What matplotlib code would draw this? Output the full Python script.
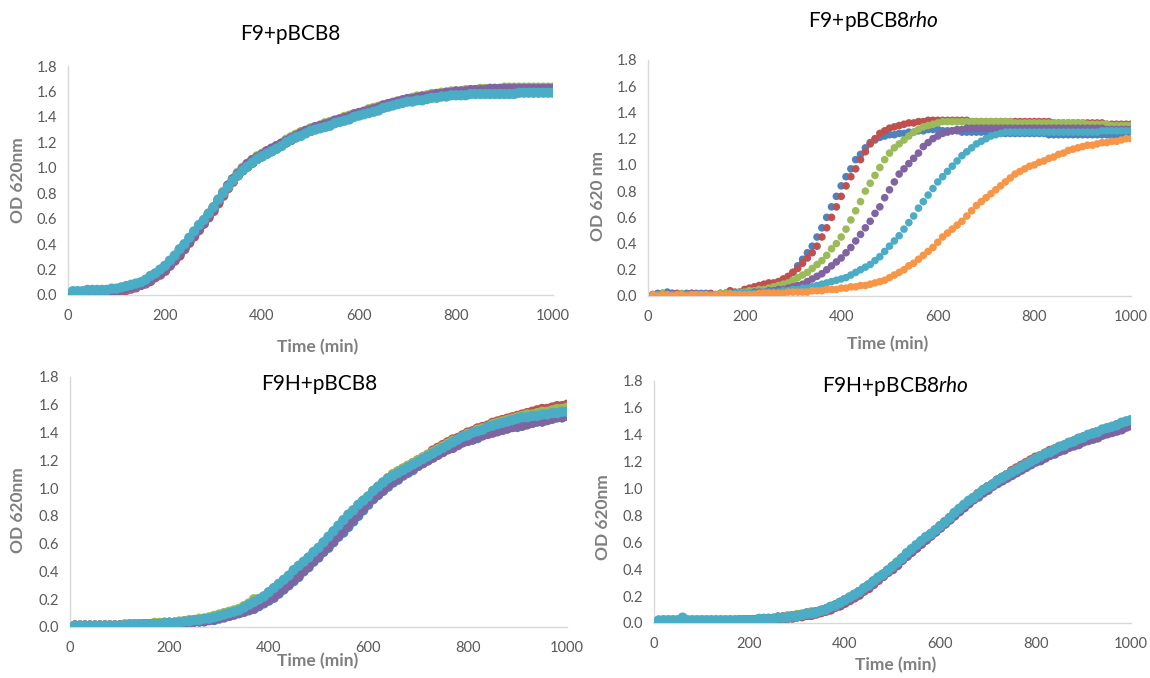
"""Growth curves (OD 620 nm vs time) for four strains, Excel-style dot plots."""

import numpy as np
import matplotlib
matplotlib.use("Agg")
import matplotlib.pyplot as plt

plt.rcParams["font.family"] = ["Lato", "DejaVu Sans"]
plt.rcParams["mathtext.fontset"] = "custom"
plt.rcParams["mathtext.rm"] = "Lato"
plt.rcParams["mathtext.it"] = "Lato:italic"

# sampling times (min), one reading every 10 min
time_min = np.arange(10, 1001, 10)

# ---- F9+pBCB8 ----
p1_blue = [0.01, 0.01, 0.01, 0.01, 0.02, 0.02, 0.02, 0.02, 0.03, 0.03,
           0.04, 0.05, 0.06, 0.07, 0.08, 0.10, 0.12, 0.15, 0.17, 0.20,
           0.24, 0.28, 0.32, 0.37, 0.42, 0.47, 0.52, 0.57, 0.62, 0.67,
           0.73, 0.79, 0.85, 0.90, 0.94, 0.98, 1.01, 1.04, 1.07, 1.09,
           1.11, 1.13, 1.15, 1.18, 1.20, 1.22, 1.24, 1.26, 1.28, 1.29,
           1.31, 1.32, 1.33, 1.34, 1.36, 1.37, 1.38, 1.39, 1.41, 1.42,
           1.43, 1.44, 1.45, 1.46, 1.48, 1.49, 1.50, 1.51, 1.52, 1.53,
           1.53, 1.54, 1.55, 1.55, 1.56, 1.57, 1.57, 1.58, 1.58, 1.58,
           1.59, 1.59, 1.59, 1.59, 1.60, 1.60, 1.60, 1.60, 1.60, 1.60,
           1.60, 1.60, 1.61, 1.61, 1.61, 1.61, 1.61, 1.61, 1.61, 1.61]
p1_red = [0.01, 0.01, 0.01, 0.01, 0.01, 0.01, 0.02, 0.02, 0.02, 0.03,
          0.03, 0.04, 0.05, 0.06, 0.08, 0.09, 0.11, 0.14, 0.16, 0.19,
          0.23, 0.27, 0.31, 0.36, 0.41, 0.46, 0.51, 0.56, 0.61, 0.66,
          0.72, 0.78, 0.84, 0.89, 0.94, 0.98, 1.01, 1.04, 1.07, 1.09,
          1.12, 1.14, 1.16, 1.18, 1.20, 1.22, 1.24, 1.26, 1.28, 1.29,
          1.31, 1.32, 1.33, 1.35, 1.36, 1.37, 1.38, 1.40, 1.41, 1.42,
          1.43, 1.44, 1.46, 1.47, 1.48, 1.49, 1.50, 1.51, 1.52, 1.53,
          1.54, 1.54, 1.55, 1.56, 1.56, 1.57, 1.57, 1.58, 1.58, 1.59,
          1.59, 1.59, 1.60, 1.60, 1.60, 1.60, 1.61, 1.61, 1.61, 1.61,
          1.61, 1.61, 1.61, 1.62, 1.62, 1.62, 1.62, 1.62, 1.62, 1.62]
p1_green = [0.01, 0.01, 0.01, 0.02, 0.02, 0.02, 0.02, 0.03, 0.03, 0.03,
            0.04, 0.05, 0.06, 0.07, 0.09, 0.10, 0.12, 0.15, 0.18, 0.21,
            0.25, 0.29, 0.34, 0.38, 0.43, 0.48, 0.53, 0.58, 0.64, 0.69,
            0.75, 0.81, 0.86, 0.91, 0.96, 1.00, 1.03, 1.06, 1.09, 1.11,
            1.13, 1.15, 1.17, 1.19, 1.22, 1.24, 1.26, 1.28, 1.29, 1.31,
            1.32, 1.33, 1.35, 1.36, 1.37, 1.38, 1.40, 1.41, 1.42, 1.43,
            1.44, 1.46, 1.47, 1.48, 1.49, 1.50, 1.51, 1.52, 1.53, 1.54,
            1.55, 1.56, 1.56, 1.57, 1.58, 1.58, 1.59, 1.59, 1.60, 1.60,
            1.60, 1.61, 1.61, 1.61, 1.62, 1.62, 1.62, 1.62, 1.62, 1.63,
            1.63, 1.63, 1.63, 1.63, 1.63, 1.63, 1.63, 1.63, 1.63, 1.63]
p1_purple = [0.01, 0.01, 0.01, 0.01, 0.01, 0.02, 0.02, 0.02, 0.03, 0.03,
             0.04, 0.05, 0.06, 0.07, 0.08, 0.10, 0.12, 0.15, 0.17, 0.20,
             0.24, 0.28, 0.33, 0.37, 0.42, 0.47, 0.52, 0.57, 0.63, 0.68,
             0.74, 0.80, 0.86, 0.91, 0.95, 0.99, 1.03, 1.06, 1.08, 1.10,
             1.13, 1.15, 1.17, 1.19, 1.21, 1.23, 1.25, 1.27, 1.29, 1.30,
             1.32, 1.33, 1.34, 1.35, 1.37, 1.38, 1.39, 1.40, 1.42, 1.43,
             1.44, 1.45, 1.46, 1.47, 1.49, 1.50, 1.51, 1.52, 1.53, 1.54,
             1.54, 1.55, 1.56, 1.56, 1.57, 1.58, 1.58, 1.59, 1.59, 1.60,
             1.60, 1.60, 1.61, 1.61, 1.61, 1.61, 1.62, 1.62, 1.62, 1.62,
             1.62, 1.62, 1.62, 1.62, 1.62, 1.62, 1.62, 1.62, 1.62, 1.62]
p1_cyan = [0.03, 0.03, 0.03, 0.04, 0.04, 0.04, 0.04, 0.04, 0.05, 0.05,
           0.06, 0.07, 0.08, 0.09, 0.10, 0.12, 0.15, 0.17, 0.20, 0.23,
           0.27, 0.31, 0.36, 0.40, 0.45, 0.50, 0.55, 0.59, 0.64, 0.69,
           0.75, 0.80, 0.85, 0.90, 0.94, 0.98, 1.01, 1.04, 1.07, 1.09,
           1.11, 1.13, 1.15, 1.17, 1.20, 1.22, 1.24, 1.25, 1.27, 1.29,
           1.30, 1.31, 1.32, 1.33, 1.35, 1.36, 1.37, 1.38, 1.40, 1.41,
           1.42, 1.43, 1.44, 1.45, 1.47, 1.48, 1.49, 1.50, 1.51, 1.52,
           1.52, 1.53, 1.53, 1.54, 1.55, 1.55, 1.56, 1.56, 1.57, 1.57,
           1.57, 1.57, 1.58, 1.58, 1.58, 1.58, 1.58, 1.58, 1.58, 1.58,
           1.58, 1.58, 1.59, 1.59, 1.59, 1.59, 1.59, 1.59, 1.59, 1.59]

# ---- F9+pBCB8rho ----
p2_blue = [0.01, 0.02, 0.02, 0.03, 0.02, 0.01, 0.01, 0.02, 0.02, 0.02,
           0.02, 0.02, 0.01, 0.01, 0.02, 0.02, 0.02, 0.02, 0.03, 0.03,
           0.04, 0.05, 0.05, 0.06, 0.07, 0.08, 0.10, 0.11, 0.14, 0.18,
           0.23, 0.28, 0.33, 0.38, 0.45, 0.52, 0.60, 0.68, 0.76, 0.84,
           0.91, 0.97, 1.04, 1.08, 1.13, 1.17, 1.19, 1.21, 1.22, 1.23,
           1.23, 1.24, 1.24, 1.25, 1.25, 1.26, 1.26, 1.27, 1.27, 1.27,
           1.26, 1.26, 1.26, 1.26, 1.25, 1.25, 1.25, 1.25, 1.25, 1.25,
           1.25, 1.25, 1.24, 1.24, 1.24, 1.24, 1.24, 1.24, 1.24, 1.24,
           1.24, 1.24, 1.23, 1.23, 1.23, 1.23, 1.23, 1.23, 1.23, 1.23,
           1.23, 1.23, 1.23, 1.23, 1.23, 1.22, 1.22, 1.22, 1.22, 1.22]
p2_red = [0.01, 0.01, 0.02, 0.01, 0.01, 0.02, 0.01, 0.01, 0.02, 0.01,
          0.01, 0.01, 0.02, 0.01, 0.02, 0.02, 0.04, 0.03, 0.03, 0.05,
          0.06, 0.07, 0.08, 0.09, 0.10, 0.10, 0.11, 0.13, 0.15, 0.18,
          0.21, 0.25, 0.29, 0.33, 0.38, 0.45, 0.52, 0.60, 0.68, 0.76,
          0.84, 0.91, 0.97, 1.04, 1.10, 1.16, 1.20, 1.24, 1.26, 1.28,
          1.29, 1.30, 1.31, 1.32, 1.32, 1.33, 1.33, 1.34, 1.34, 1.34,
          1.34, 1.34, 1.34, 1.34, 1.34, 1.34, 1.33, 1.33, 1.33, 1.33,
          1.33, 1.33, 1.33, 1.33, 1.33, 1.33, 1.33, 1.33, 1.33, 1.33,
          1.33, 1.33, 1.33, 1.32, 1.32, 1.32, 1.32, 1.32, 1.32, 1.32,
          1.32, 1.32, 1.32, 1.32, 1.31, 1.31, 1.31, 1.31, 1.31, 1.31]
p2_green = [0.01, 0.01, 0.02, 0.01, 0.01, 0.01, 0.02, 0.01, 0.01, 0.01,
            0.01, 0.01, 0.01, 0.01, 0.02, 0.02, 0.02, 0.02, 0.03, 0.03,
            0.04, 0.04, 0.05, 0.05, 0.06, 0.07, 0.08, 0.09, 0.10, 0.12,
            0.14, 0.16, 0.18, 0.21, 0.24, 0.27, 0.31, 0.36, 0.40, 0.45,
            0.51, 0.58, 0.65, 0.72, 0.80, 0.86, 0.92, 0.98, 1.04, 1.09,
            1.13, 1.16, 1.19, 1.22, 1.25, 1.27, 1.29, 1.30, 1.31, 1.32,
            1.33, 1.33, 1.33, 1.33, 1.33, 1.33, 1.33, 1.33, 1.33, 1.33,
            1.33, 1.33, 1.33, 1.33, 1.33, 1.32, 1.32, 1.32, 1.32, 1.32,
            1.32, 1.32, 1.32, 1.32, 1.32, 1.32, 1.32, 1.32, 1.32, 1.32,
            1.31, 1.31, 1.31, 1.31, 1.31, 1.30, 1.30, 1.30, 1.30, 1.30]
p2_purple = [0.01, 0.01, 0.01, 0.01, 0.02, 0.01, 0.01, 0.01, 0.01, 0.01,
             0.01, 0.01, 0.01, 0.01, 0.01, 0.01, 0.01, 0.02, 0.02, 0.02,
             0.02, 0.03, 0.03, 0.03, 0.04, 0.04, 0.05, 0.05, 0.06, 0.07,
             0.08, 0.09, 0.11, 0.13, 0.15, 0.17, 0.20, 0.23, 0.26, 0.29,
             0.33, 0.37, 0.42, 0.47, 0.52, 0.57, 0.63, 0.68, 0.75, 0.81,
             0.87, 0.93, 0.97, 1.01, 1.05, 1.09, 1.14, 1.17, 1.20, 1.22,
             1.24, 1.25, 1.26, 1.27, 1.27, 1.28, 1.28, 1.28, 1.28, 1.28,
             1.28, 1.28, 1.28, 1.28, 1.28, 1.28, 1.28, 1.28, 1.28, 1.28,
             1.28, 1.28, 1.28, 1.28, 1.28, 1.28, 1.28, 1.28, 1.28, 1.28,
             1.28, 1.28, 1.28, 1.28, 1.27, 1.27, 1.27, 1.27, 1.27, 1.27]
p2_cyan = [0.01, 0.01, 0.00, 0.01, 0.01, 0.00, 0.01, 0.01, 0.01, 0.01,
           0.01, 0.01, 0.01, 0.01, 0.01, 0.01, 0.01, 0.02, 0.02, 0.02,
           0.02, 0.02, 0.02, 0.03, 0.03, 0.03, 0.03, 0.04, 0.04, 0.05,
           0.05, 0.06, 0.06, 0.07, 0.08, 0.09, 0.10, 0.11, 0.12, 0.13,
           0.14, 0.16, 0.18, 0.20, 0.22, 0.24, 0.27, 0.30, 0.34, 0.38,
           0.42, 0.46, 0.51, 0.56, 0.61, 0.67, 0.72, 0.77, 0.82, 0.87,
           0.91, 0.95, 0.99, 1.03, 1.07, 1.10, 1.13, 1.16, 1.18, 1.20,
           1.22, 1.23, 1.24, 1.25, 1.25, 1.25, 1.25, 1.25, 1.25, 1.25,
           1.25, 1.25, 1.25, 1.25, 1.25, 1.25, 1.25, 1.25, 1.25, 1.25,
           1.25, 1.25, 1.25, 1.26, 1.26, 1.26, 1.26, 1.26, 1.26, 1.26]
p2_orange = [0.01, 0.00, 0.01, 0.01, 0.00, 0.01, 0.01, 0.00, 0.01, 0.01,
             0.01, 0.01, 0.00, 0.01, 0.01, 0.01, 0.01, 0.01, 0.01, 0.01,
             0.01, 0.01, 0.02, 0.02, 0.02, 0.02, 0.02, 0.02, 0.03, 0.03,
             0.03, 0.03, 0.03, 0.04, 0.04, 0.04, 0.05, 0.05, 0.05, 0.06,
             0.06, 0.07, 0.07, 0.08, 0.08, 0.09, 0.10, 0.11, 0.12, 0.14,
             0.16, 0.18, 0.20, 0.23, 0.25, 0.28, 0.31, 0.34, 0.37, 0.41,
             0.45, 0.48, 0.51, 0.54, 0.57, 0.61, 0.65, 0.69, 0.72, 0.75,
             0.78, 0.81, 0.84, 0.87, 0.90, 0.93, 0.95, 0.97, 0.99, 1.00,
             1.02, 1.03, 1.05, 1.06, 1.08, 1.09, 1.11, 1.12, 1.13, 1.14,
             1.15, 1.15, 1.16, 1.17, 1.17, 1.18, 1.18, 1.19, 1.20, 1.20]

# ---- F9H+pBCB8 ----
p3_blue = [0.01, 0.00, 0.01, 0.01, 0.00, 0.01, 0.01, 0.01, 0.01, 0.01,
           0.01, 0.01, 0.01, 0.01, 0.01, 0.02, 0.02, 0.02, 0.02, 0.02,
           0.02, 0.03, 0.03, 0.03, 0.04, 0.04, 0.04, 0.05, 0.05, 0.06,
           0.07, 0.08, 0.09, 0.10, 0.11, 0.12, 0.13, 0.15, 0.17, 0.19,
           0.21, 0.24, 0.27, 0.30, 0.33, 0.36, 0.40, 0.43, 0.47, 0.50,
           0.54, 0.57, 0.61, 0.65, 0.68, 0.72, 0.76, 0.80, 0.84, 0.88,
           0.92, 0.95, 0.98, 1.01, 1.04, 1.06, 1.09, 1.11, 1.13, 1.16,
           1.18, 1.20, 1.22, 1.24, 1.26, 1.28, 1.29, 1.31, 1.33, 1.34,
           1.35, 1.36, 1.38, 1.39, 1.40, 1.41, 1.42, 1.43, 1.44, 1.44,
           1.45, 1.46, 1.47, 1.48, 1.48, 1.49, 1.50, 1.51, 1.51, 1.52]
p3_red = [0.01, 0.01, 0.01, 0.01, 0.01, 0.01, 0.01, 0.01, 0.01, 0.01,
          0.01, 0.01, 0.02, 0.02, 0.02, 0.02, 0.02, 0.02, 0.03, 0.03,
          0.03, 0.03, 0.04, 0.04, 0.04, 0.05, 0.05, 0.06, 0.06, 0.07,
          0.08, 0.09, 0.10, 0.11, 0.12, 0.13, 0.15, 0.17, 0.19, 0.21,
          0.23, 0.26, 0.29, 0.32, 0.35, 0.38, 0.42, 0.45, 0.49, 0.52,
          0.56, 0.60, 0.64, 0.68, 0.72, 0.76, 0.80, 0.84, 0.88, 0.92,
          0.96, 1.00, 1.04, 1.07, 1.10, 1.12, 1.14, 1.16, 1.18, 1.20,
          1.22, 1.24, 1.27, 1.29, 1.31, 1.33, 1.35, 1.36, 1.38, 1.40,
          1.41, 1.43, 1.44, 1.45, 1.47, 1.48, 1.49, 1.50, 1.51, 1.52,
          1.53, 1.54, 1.55, 1.56, 1.57, 1.57, 1.58, 1.59, 1.59, 1.60]
p3_green = [0.01, 0.01, 0.01, 0.01, 0.01, 0.01, 0.01, 0.01, 0.01, 0.01,
            0.02, 0.02, 0.02, 0.02, 0.02, 0.02, 0.03, 0.03, 0.03, 0.03,
            0.03, 0.04, 0.04, 0.05, 0.05, 0.06, 0.06, 0.07, 0.08, 0.09,
            0.10, 0.11, 0.12, 0.13, 0.15, 0.17, 0.20, 0.20, 0.22, 0.25,
            0.27, 0.30, 0.33, 0.36, 0.40, 0.43, 0.46, 0.50, 0.53, 0.56,
            0.60, 0.64, 0.68, 0.72, 0.76, 0.80, 0.84, 0.87, 0.91, 0.94,
            0.98, 1.01, 1.04, 1.07, 1.10, 1.12, 1.14, 1.16, 1.18, 1.20,
            1.22, 1.24, 1.26, 1.28, 1.30, 1.32, 1.34, 1.35, 1.37, 1.39,
            1.40, 1.42, 1.43, 1.44, 1.46, 1.47, 1.48, 1.49, 1.50, 1.51,
            1.52, 1.53, 1.53, 1.54, 1.55, 1.55, 1.56, 1.57, 1.57, 1.58]
p3_purple = [0.01, 0.01, 0.01, 0.00, 0.01, 0.01, 0.01, 0.01, 0.01, 0.01,
             0.01, 0.01, 0.01, 0.01, 0.02, 0.02, 0.02, 0.02, 0.02, 0.03,
             0.03, 0.03, 0.03, 0.04, 0.04, 0.04, 0.05, 0.05, 0.06, 0.07,
             0.07, 0.08, 0.09, 0.10, 0.11, 0.13, 0.14, 0.16, 0.18, 0.20,
             0.22, 0.25, 0.28, 0.31, 0.34, 0.37, 0.41, 0.44, 0.48, 0.51,
             0.55, 0.58, 0.62, 0.66, 0.70, 0.74, 0.78, 0.82, 0.86, 0.90,
             0.93, 0.96, 0.99, 1.02, 1.05, 1.07, 1.10, 1.12, 1.14, 1.16,
             1.18, 1.20, 1.22, 1.24, 1.26, 1.28, 1.29, 1.31, 1.33, 1.34,
             1.35, 1.37, 1.38, 1.39, 1.40, 1.41, 1.42, 1.43, 1.44, 1.45,
             1.45, 1.46, 1.47, 1.48, 1.48, 1.49, 1.50, 1.51, 1.51, 1.52]
p3_cyan = [0.01, 0.01, 0.01, 0.01, 0.01, 0.01, 0.01, 0.01, 0.01, 0.01,
           0.01, 0.02, 0.02, 0.02, 0.02, 0.02, 0.02, 0.02, 0.03, 0.03,
           0.03, 0.03, 0.04, 0.04, 0.05, 0.05, 0.06, 0.06, 0.07, 0.08,
           0.09, 0.10, 0.11, 0.12, 0.14, 0.16, 0.18, 0.20, 0.22, 0.25,
           0.28, 0.31, 0.34, 0.37, 0.41, 0.44, 0.47, 0.50, 0.54, 0.57,
           0.61, 0.65, 0.69, 0.73, 0.77, 0.81, 0.84, 0.88, 0.91, 0.94,
           0.98, 1.01, 1.04, 1.07, 1.09, 1.11, 1.13, 1.15, 1.17, 1.19,
           1.21, 1.23, 1.25, 1.27, 1.29, 1.31, 1.33, 1.35, 1.37, 1.38,
           1.40, 1.41, 1.42, 1.44, 1.45, 1.46, 1.47, 1.48, 1.49, 1.50,
           1.51, 1.51, 1.52, 1.52, 1.53, 1.53, 1.54, 1.54, 1.55, 1.55]

# ---- F9H+pBCB8rho ----
p4_blue = [0.01, 0.01, 0.01, 0.01, 0.01, 0.02, 0.01, 0.01, 0.01, 0.01,
           0.01, 0.01, 0.01, 0.01, 0.01, 0.01, 0.01, 0.02, 0.02, 0.02,
           0.02, 0.02, 0.02, 0.03, 0.03, 0.03, 0.04, 0.04, 0.05, 0.05,
           0.06, 0.06, 0.07, 0.08, 0.09, 0.10, 0.11, 0.13, 0.15, 0.16,
           0.18, 0.20, 0.23, 0.25, 0.28, 0.30, 0.33, 0.36, 0.39, 0.41,
           0.44, 0.48, 0.51, 0.54, 0.57, 0.60, 0.63, 0.66, 0.69, 0.72,
           0.75, 0.78, 0.81, 0.84, 0.87, 0.90, 0.93, 0.96, 0.98, 1.01,
           1.03, 1.05, 1.08, 1.10, 1.12, 1.14, 1.16, 1.18, 1.20, 1.22,
           1.24, 1.25, 1.27, 1.29, 1.30, 1.32, 1.33, 1.35, 1.36, 1.38,
           1.39, 1.40, 1.42, 1.43, 1.44, 1.45, 1.46, 1.48, 1.49, 1.50]
p4_red = [0.01, 0.01, 0.01, 0.01, 0.01, 0.01, 0.01, 0.01, 0.01, 0.01,
          0.01, 0.01, 0.01, 0.01, 0.01, 0.01, 0.01, 0.01, 0.01, 0.02,
          0.02, 0.02, 0.02, 0.02, 0.03, 0.03, 0.03, 0.04, 0.04, 0.05,
          0.05, 0.06, 0.06, 0.07, 0.08, 0.09, 0.10, 0.12, 0.13, 0.15,
          0.17, 0.19, 0.21, 0.24, 0.26, 0.29, 0.32, 0.35, 0.38, 0.40,
          0.43, 0.47, 0.50, 0.53, 0.56, 0.59, 0.62, 0.65, 0.68, 0.71,
          0.74, 0.77, 0.81, 0.84, 0.87, 0.90, 0.93, 0.96, 0.98, 1.01,
          1.03, 1.06, 1.08, 1.10, 1.13, 1.15, 1.17, 1.19, 1.21, 1.23,
          1.24, 1.26, 1.28, 1.29, 1.31, 1.32, 1.34, 1.35, 1.37, 1.38,
          1.39, 1.41, 1.42, 1.43, 1.44, 1.45, 1.47, 1.48, 1.49, 1.50]
p4_green = [0.01, 0.02, 0.02, 0.02, 0.02, 0.02, 0.02, 0.02, 0.02, 0.02,
            0.02, 0.02, 0.02, 0.02, 0.02, 0.02, 0.02, 0.02, 0.02, 0.02,
            0.02, 0.03, 0.03, 0.03, 0.03, 0.04, 0.04, 0.05, 0.05, 0.06,
            0.06, 0.07, 0.08, 0.08, 0.09, 0.10, 0.12, 0.13, 0.15, 0.17,
            0.19, 0.21, 0.23, 0.25, 0.28, 0.31, 0.33, 0.36, 0.39, 0.42,
            0.45, 0.48, 0.51, 0.54, 0.57, 0.60, 0.63, 0.66, 0.69, 0.72,
            0.75, 0.78, 0.81, 0.84, 0.87, 0.90, 0.93, 0.96, 0.98, 1.01,
            1.03, 1.05, 1.08, 1.10, 1.12, 1.14, 1.16, 1.18, 1.20, 1.22,
            1.24, 1.25, 1.27, 1.29, 1.30, 1.32, 1.33, 1.35, 1.36, 1.38,
            1.39, 1.40, 1.42, 1.43, 1.44, 1.45, 1.47, 1.48, 1.49, 1.50]
p4_purple = [0.01, 0.01, 0.01, 0.01, 0.01, 0.01, 0.01, 0.01, 0.01, 0.01,
             0.01, 0.01, 0.01, 0.01, 0.01, 0.01, 0.01, 0.02, 0.02, 0.02,
             0.02, 0.02, 0.03, 0.03, 0.03, 0.04, 0.04, 0.04, 0.05, 0.05,
             0.06, 0.07, 0.07, 0.08, 0.09, 0.10, 0.11, 0.13, 0.14, 0.16,
             0.18, 0.20, 0.22, 0.25, 0.27, 0.30, 0.33, 0.35, 0.38, 0.41,
             0.44, 0.47, 0.50, 0.53, 0.56, 0.59, 0.62, 0.65, 0.68, 0.71,
             0.74, 0.77, 0.80, 0.83, 0.86, 0.89, 0.92, 0.94, 0.97, 0.99,
             1.02, 1.04, 1.06, 1.08, 1.10, 1.12, 1.14, 1.16, 1.18, 1.20,
             1.21, 1.23, 1.25, 1.26, 1.28, 1.29, 1.31, 1.32, 1.33, 1.35,
             1.36, 1.37, 1.38, 1.40, 1.41, 1.42, 1.43, 1.44, 1.46, 1.47]
p4_cyan = [0.02, 0.02, 0.02, 0.02, 0.02, 0.04, 0.02, 0.02, 0.02, 0.02,
           0.02, 0.02, 0.02, 0.02, 0.02, 0.02, 0.02, 0.02, 0.02, 0.02,
           0.02, 0.03, 0.03, 0.03, 0.03, 0.04, 0.04, 0.04, 0.05, 0.05,
           0.06, 0.07, 0.07, 0.08, 0.09, 0.10, 0.12, 0.13, 0.15, 0.17,
           0.19, 0.21, 0.23, 0.26, 0.28, 0.31, 0.34, 0.36, 0.39, 0.42,
           0.45, 0.48, 0.52, 0.55, 0.58, 0.61, 0.64, 0.66, 0.69, 0.72,
           0.75, 0.78, 0.82, 0.85, 0.88, 0.91, 0.93, 0.96, 0.99, 1.01,
           1.03, 1.06, 1.08, 1.10, 1.12, 1.14, 1.16, 1.18, 1.20, 1.22,
           1.24, 1.26, 1.27, 1.29, 1.31, 1.32, 1.34, 1.35, 1.37, 1.38,
           1.40, 1.41, 1.42, 1.44, 1.45, 1.46, 1.47, 1.49, 1.50, 1.51]

# Office 2010 series palette
BLUE, RED, GREEN = "#4F81BD", "#C0504D", "#9BBB59"
PURPLE, CYAN, ORANGE = "#8064A2", "#4BACC6", "#F79646"

TICK_GRAY = "#595959"
LABEL_GRAY = "#7F7F7F"
AXIS_GRAY = "#D9D9D9"

W, H = 1150, 678


def px_box(x0, x1, y_bottom, y_top):
    """Axes rect from pixel positions of x=0, x=1000, y=0.0 and y=1.8."""
    return [x0 / W, 1 - y_bottom / H, (x1 - x0) / W, (y_bottom - y_top) / H]


def fig_text(fig, x, y, s, **kw):
    fig.text(x / W, 1 - y / H, s, ha="center", va="center", **kw)


def draw_panel(ax, series, dot_size):
    for values, color in series:
        ax.scatter(time_min, values, s=dot_size, c=color, edgecolors="none", zorder=3)
    ax.set_xlim(0, 1000)
    ax.set_ylim(0, 1.8)
    ax.set_xticks(range(0, 1001, 200))
    ax.set_yticks(np.arange(0, 1.81, 0.2))
    ax.set_yticklabels([f"{v:.1f}" for v in np.arange(0, 1.81, 0.2)])
    for side in ("top", "right"):
        ax.spines[side].set_visible(False)
    for side in ("left", "bottom"):
        ax.spines[side].set_color(AXIS_GRAY)
        ax.spines[side].set_linewidth(1.0)
    ax.tick_params(length=0, labelsize=10.5, labelcolor=TICK_GRAY)
    ax.tick_params(axis="x", pad=10)
    ax.tick_params(axis="y", pad=8)
    ax.patch.set_alpha(0)


fig = plt.figure(figsize=(11.5, 6.78), dpi=100)

ax1 = fig.add_axes(px_box(68, 553, 295, 66))
ax2 = fig.add_axes(px_box(648, 1131, 296, 60))
ax3 = fig.add_axes(px_box(70, 567, 627, 377))
ax4 = fig.add_axes(px_box(654, 1131, 623, 381))

dense = 55
draw_panel(ax1, [(p1_blue, BLUE), (p1_red, RED), (p1_green, GREEN),
                 (p1_purple, PURPLE), (p1_cyan, CYAN)], dense)
draw_panel(ax2, [(p2_blue, BLUE), (p2_red, RED), (p2_green, GREEN),
                 (p2_purple, PURPLE), (p2_cyan, CYAN), (p2_orange, ORANGE)], 30)
draw_panel(ax3, [(p3_blue, BLUE), (p3_red, RED), (p3_green, GREEN),
                 (p3_purple, PURPLE), (p3_cyan, CYAN)], dense)
draw_panel(ax4, [(p4_blue, BLUE), (p4_red, RED), (p4_green, GREEN),
                 (p4_purple, PURPLE), (p4_cyan, CYAN)], dense)

title_kw = dict(fontsize=15, color="black")
fig_text(fig, 290, 34, "F9+pBCB8", **title_kw)
fig_text(fig, 873, 21, r"F9+pBCB8$\mathit{rho}$", **title_kw)
fig_text(fig, 319, 384, "F9H+pBCB8", **title_kw)
fig_text(fig, 895, 386, r"F9H+pBCB8$\mathit{rho}$", **title_kw)

label_kw = dict(fontsize=12.5, fontweight="bold", color=LABEL_GRAY)
fig_text(fig, 318, 347, "Time (min)", **label_kw)
fig_text(fig, 888, 344, "Time (min)", **label_kw)
fig_text(fig, 318, 661, "Time (min)", **label_kw)
fig_text(fig, 896, 665, "Time (min)", **label_kw)

fig_text(fig, 18, 180, "OD 620nm", rotation=90, **label_kw)
fig_text(fig, 598, 196, "OD 620 nm", rotation=90, **label_kw)
fig_text(fig, 18, 510, "OD 620nm", rotation=90, **label_kw)
fig_text(fig, 603, 517, "OD 620nm", rotation=90, **label_kw)

fig.savefig("out.png", dpi=100, facecolor="white")
